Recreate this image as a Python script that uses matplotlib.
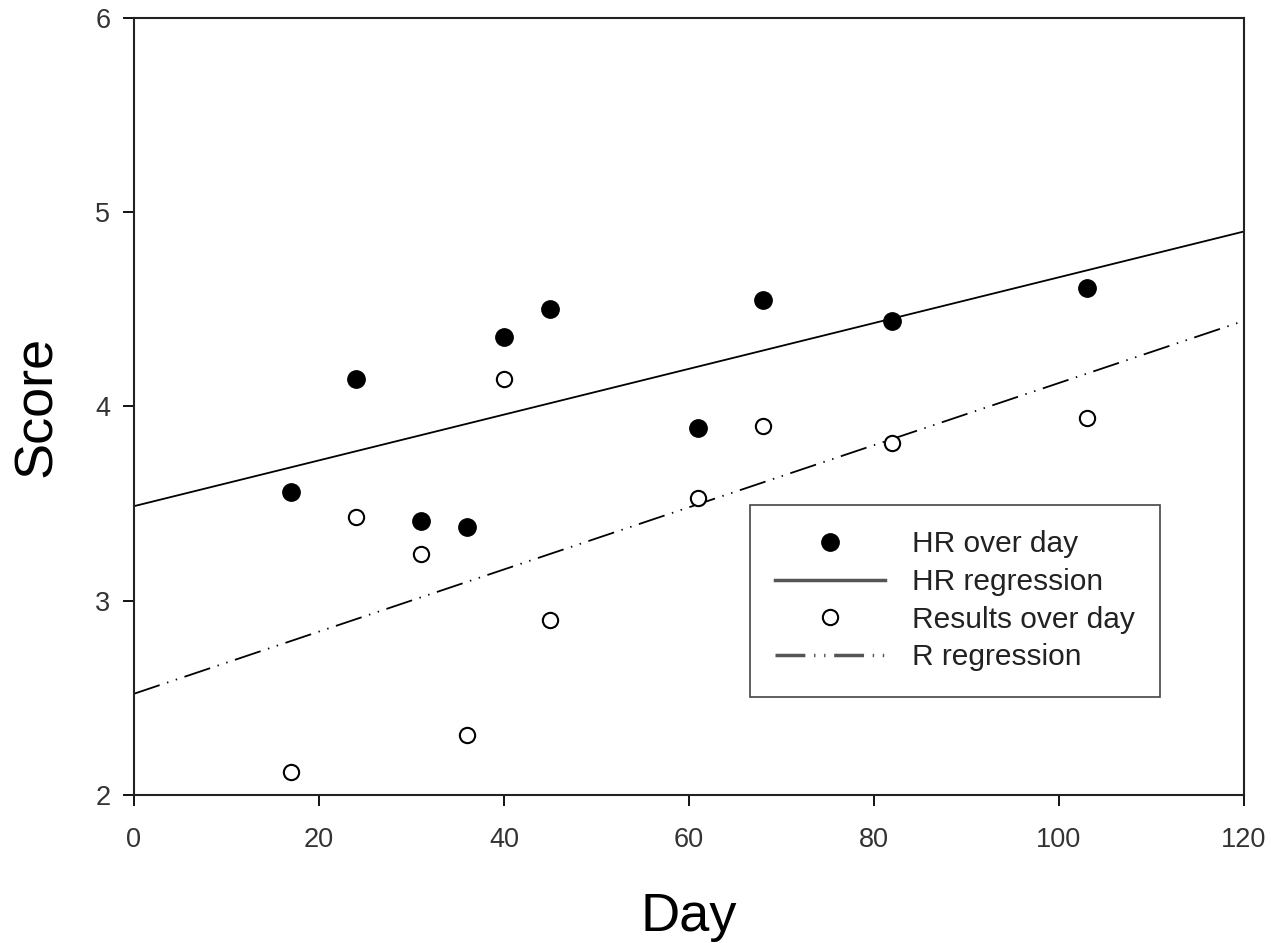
import numpy as np
import matplotlib
matplotlib.use("Agg")
import matplotlib.pyplot as plt
from matplotlib.lines import Line2D

plt.rcParams['font.family'] = ['Liberation Sans', 'DejaVu Sans']

days = [17, 24, 31, 36, 40, 45, 61, 68, 82, 103]
hr_scores = [3.56, 4.14, 3.41, 3.38, 4.36, 4.50, 3.89, 4.55, 4.44, 4.61]
result_scores = [2.12, 3.43, 3.24, 2.31, 4.14, 2.90, 3.53, 3.90, 3.81, 3.94]
x_ticks = [0, 20, 40, 60, 80, 100, 120]
y_ticks = [2, 3, 4, 5, 6]

fig = plt.figure(figsize=(12.71, 9.43), dpi=100)
ax = fig.add_axes([0.1054, 0.157, 0.8733, 0.824])

# linear fits drawn across the whole axis
xs = np.array([0, 120])
hr_fit = np.polyfit(days, hr_scores, 1)
r_fit = np.polyfit(days, result_scores, 1)
r_dash = (0, (15, 4.3, 0.8, 4.3, 0.8, 4.3))

ax.plot(xs, np.polyval(hr_fit, xs), '-', color='black', lw=1.3)
ax.plot(xs, np.polyval(r_fit, xs), color='black', lw=1.3, linestyle=r_dash)
ax.plot(days, hr_scores, 'o', color='black', ms=12.5, zorder=3)
ax.plot(days, result_scores, 'o', mfc='white', mec='black', mew=1.5, ms=11, zorder=3)

ax.set_xlim(0, 120)
ax.set_ylim(2, 6)
ax.set_xticks(x_ticks)
ax.set_yticks(y_ticks)
ax.tick_params(direction='out', length=8, width=1.3, labelsize=19.5,
               labelcolor='#333333', pad=9)
ax.tick_params(axis='x', pad=15)
for s in ax.spines.values():
    s.set_linewidth(1.5)
    s.set_color('#222222')

ax.set_xlabel('Day', fontsize=39, labelpad=28)
ax.set_ylabel('Score', fontsize=39, labelpad=24)

handles = [
    Line2D([], [], marker='o', ls='none', color='black', ms=12.5),
    Line2D([], [], ls='-', color='#555555', lw=2.5),
    Line2D([], [], marker='o', ls='none', mfc='white', mec='black', mew=1.5, ms=11),
    Line2D([], [], ls=(0, (8.6, 2.5, 0.4, 2.5, 0.4, 2.5)), color='#555555', lw=2.5),
]
labels = ['HR over day', 'HR regression', 'Results over day', 'R regression']
leg = ax.legend(handles, labels, loc='upper left', bbox_to_anchor=(0.555, 0.373),
                borderaxespad=0, fontsize=21.5, fancybox=False, framealpha=1,
                edgecolor='#444444', handlelength=3.67, handletextpad=0.9,
                labelspacing=0.32, borderpad=0.85)
leg.get_frame().set_linewidth(1.2)
for t in leg.get_texts():
    t.set_color('#222222')

fig.savefig('out.png', dpi=100)
